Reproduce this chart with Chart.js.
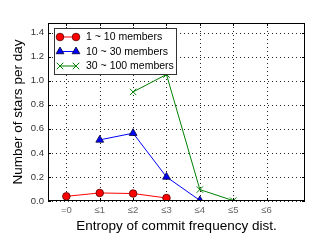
<!DOCTYPE html>
<html>
<head>
<meta charset="utf-8">
<script src="https://cdn.jsdelivr.net/npm/chart.js@4/dist/chart.umd.min.js"></script>
<style>
  html, body { margin: 0; padding: 0; background: #fff; }
  #wrap { width: 327px; height: 245px; }
</style>
</head>
<body>
<div id="wrap"><canvas id="c" width="327" height="245"></canvas></div>
<script>
// 数据：熵分组 -> 每天星数
const categories = ['=0', '≤1', '≤2', '≤3', '≤4', '≤5', '≤6'];
const yTicks = [0, 0.2, 0.4, 0.6, 0.8, 1.0, 1.2, 1.4];
const small = [0.039, 0.067, 0.062, 0.025, null, null, null];   // 1 ~ 10 members
const medium = [null, 0.508, 0.564, 0.200, 0.005, null, null];  // 10 ~ 30 members
const large = [null, null, 0.907, 1.052, 0.095, 0.003, null];   // 30 ~ 100 members
const seriesNames = ['1 ~ 10 members', '10 ~ 30 members', '30 ~ 100 members'];

function toPoints(values) {
    return values.map((v, i) => v == null ? null : { x: i, y: v }).filter(p => p);
}

const FONT = 'Liberation Sans, Arial, sans-serif';

function drawMarker(ctx, ds, px, y) {
    ctx.fillStyle = ds.pointBackgroundColor;
    ctx.strokeStyle = ds.pointBorderColor;
    ctx.lineWidth = ds.pointBorderWidth;
    ctx.beginPath();
    if (ds.pointStyle === 'circle') {
        ctx.arc(px, y, ds.pointRadius, 0, Math.PI * 2);
    } else if (ds.pointStyle === 'triangle') {
        const r = ds.pointRadius;
        ctx.moveTo(px, y - r);
        ctx.lineTo(px + r * 0.87, y + r * 0.5);
        ctx.lineTo(px - r * 0.87, y + r * 0.5);
        ctx.closePath();
    } else {
        const r = ds.pointRadius * 0.72;
        ctx.moveTo(px - r, y - r); ctx.lineTo(px + r, y + r);
        ctx.moveTo(px + r, y - r); ctx.lineTo(px - r, y + r);
    }
    if (ds.pointStyle !== 'crossRot') ctx.fill();
    ctx.stroke();
}

// 点状网格线（自己画，保证虚线效果）+ 外框 + 刻度线 + 图例
const framePlugin = {
    id: 'frame',
    beforeDatasetsDraw(chart) {
        const { ctx, chartArea: a, scales } = chart;
        ctx.save();
        ctx.strokeStyle = 'rgba(0,0,0,0.85)';
        ctx.lineWidth = 1;
        ctx.setLineDash([1, 3]);
        scales.x.ticks.forEach(t => {
            const px = Math.round(scales.x.getPixelForValue(t.value)) + 0.5;
            ctx.beginPath();
            ctx.moveTo(px, a.top);
            ctx.lineTo(px, a.bottom);
            ctx.stroke();
        });
        scales.y.ticks.forEach(t => {
            const py = Math.round(scales.y.getPixelForValue(t.value)) + 0.5;
            ctx.beginPath();
            ctx.moveTo(a.left, py);
            ctx.lineTo(a.right, py);
            ctx.stroke();
        });
        // 朝内的短刻度线
        ctx.setLineDash([]);
        ctx.strokeStyle = '#000';
        scales.x.ticks.forEach(t => {
            const px = Math.round(scales.x.getPixelForValue(t.value)) + 0.5;
            ctx.beginPath();
            ctx.moveTo(px, a.bottom); ctx.lineTo(px, a.bottom - 3);
            ctx.moveTo(px, a.top); ctx.lineTo(px, a.top + 3);
            ctx.stroke();
        });
        scales.y.ticks.forEach(t => {
            const py = Math.round(scales.y.getPixelForValue(t.value)) + 0.5;
            ctx.beginPath();
            ctx.moveTo(a.left, py); ctx.lineTo(a.left + 3, py);
            ctx.moveTo(a.right, py); ctx.lineTo(a.right - 3, py);
            ctx.stroke();
        });
        ctx.restore();
    },
    afterDraw(chart) {
        const { ctx, chartArea: a } = chart;
        ctx.save();
        ctx.strokeStyle = '#000';
        ctx.lineWidth = 1;
        ctx.strokeRect(a.left + 0.5, a.top + 0.5, a.right - a.left - 1, a.bottom - a.top - 1);

        // 图例
        const bx = a.left + 6, by = a.top + 5, bw = 122, bh = 46;
        ctx.fillStyle = '#fff';
        ctx.fillRect(bx, by, bw, bh);
        ctx.strokeStyle = '#333';
        ctx.strokeRect(bx + 0.5, by + 0.5, bw, bh);
        ctx.font = '10.5px ' + FONT;
        ctx.textBaseline = 'middle';
        chart.data.datasets.forEach((ds, i) => {
            const y = by + 9 + i * 14.5;
            const x0 = bx + 6, x1 = bx + 22;
            ctx.strokeStyle = ds.borderColor;
            ctx.lineWidth = 1;
            ctx.beginPath();
            ctx.moveTo(x0, y);
            ctx.lineTo(x1, y);
            ctx.stroke();
            drawMarker(ctx, ds, x0, y);
            drawMarker(ctx, ds, x1, y);
            ctx.fillStyle = '#000';
            ctx.fillText(seriesNames[i], bx + 32, y + 0.5);
        });
        ctx.restore();
    }
};

new Chart(document.getElementById('c'), {
    type: 'line',
    data: {
        datasets: [
            {
                label: seriesNames[0],
                data: toPoints(small),
                borderColor: '#ff0000',
                backgroundColor: '#ff0000',
                pointStyle: 'circle',
                pointRadius: 3.8,
                pointBackgroundColor: '#ff0000',
                pointBorderColor: '#550000',
                pointBorderWidth: 0.8,
                borderWidth: 1
            },
            {
                label: seriesNames[1],
                data: toPoints(medium),
                borderColor: '#0000ff',
                backgroundColor: '#0000ff',
                pointStyle: 'triangle',
                pointRadius: 4.5,
                pointBackgroundColor: '#0000ff',
                pointBorderColor: '#000033',
                pointBorderWidth: 0.8,
                borderWidth: 1
            },
            {
                label: seriesNames[2],
                data: toPoints(large),
                borderColor: '#008000',
                backgroundColor: '#008000',
                pointStyle: 'crossRot',
                pointRadius: 4.5,
                pointBackgroundColor: '#008000',
                pointBorderColor: '#008000',
                pointBorderWidth: 1,
                borderWidth: 1
            }
        ]
    },
    options: {
        responsive: false,
        animation: false,
        layout: { padding: { top: 23, right: 22, bottom: 11, left: 10 } },
        plugins: {
            legend: { display: false },
            tooltip: { enabled: false }
        },
        scales: {
            x: {
                type: 'linear',
                min: -0.55,
                max: 7.15,
                afterBuildTicks: scale => {
                    scale.ticks = categories.map((_, i) => ({ value: i }));
                },
                afterFit: scale => { scale.height = 33; },
                grid: { display: false, drawTicks: false },
                border: { display: false },
                ticks: {
                    padding: 4,
                    color: '#666',
                    font: { family: FONT, size: 9.5 },
                    maxRotation: 0,
                    callback: value => categories[value]
                },
                title: {
                    display: true,
                    text: 'Entropy of commit frequency dist.',
                    color: '#000',
                    font: { family: FONT, size: 13.5 },
                    padding: { top: 0, bottom: 0 }
                }
            },
            y: {
                min: 0,
                max: 1.48,
                afterBuildTicks: scale => {
                    scale.ticks = yTicks.map(v => ({ value: v }));
                },
                afterFit: scale => { scale.width = 38; },
                grid: { display: false, drawTicks: false },
                border: { display: false },
                ticks: {
                    padding: 4,
                    color: '#333',
                    font: { family: FONT, size: 9.5 },
                    callback: value => value.toFixed(1)
                },
                title: {
                    display: true,
                    text: 'Number of stars per day',
                    color: '#000',
                    font: { family: FONT, size: 13.5 },
                    padding: { top: 0, bottom: 2 }
                }
            }
        }
    },
    plugins: [framePlugin]
});
</script>
</body>
</html>
